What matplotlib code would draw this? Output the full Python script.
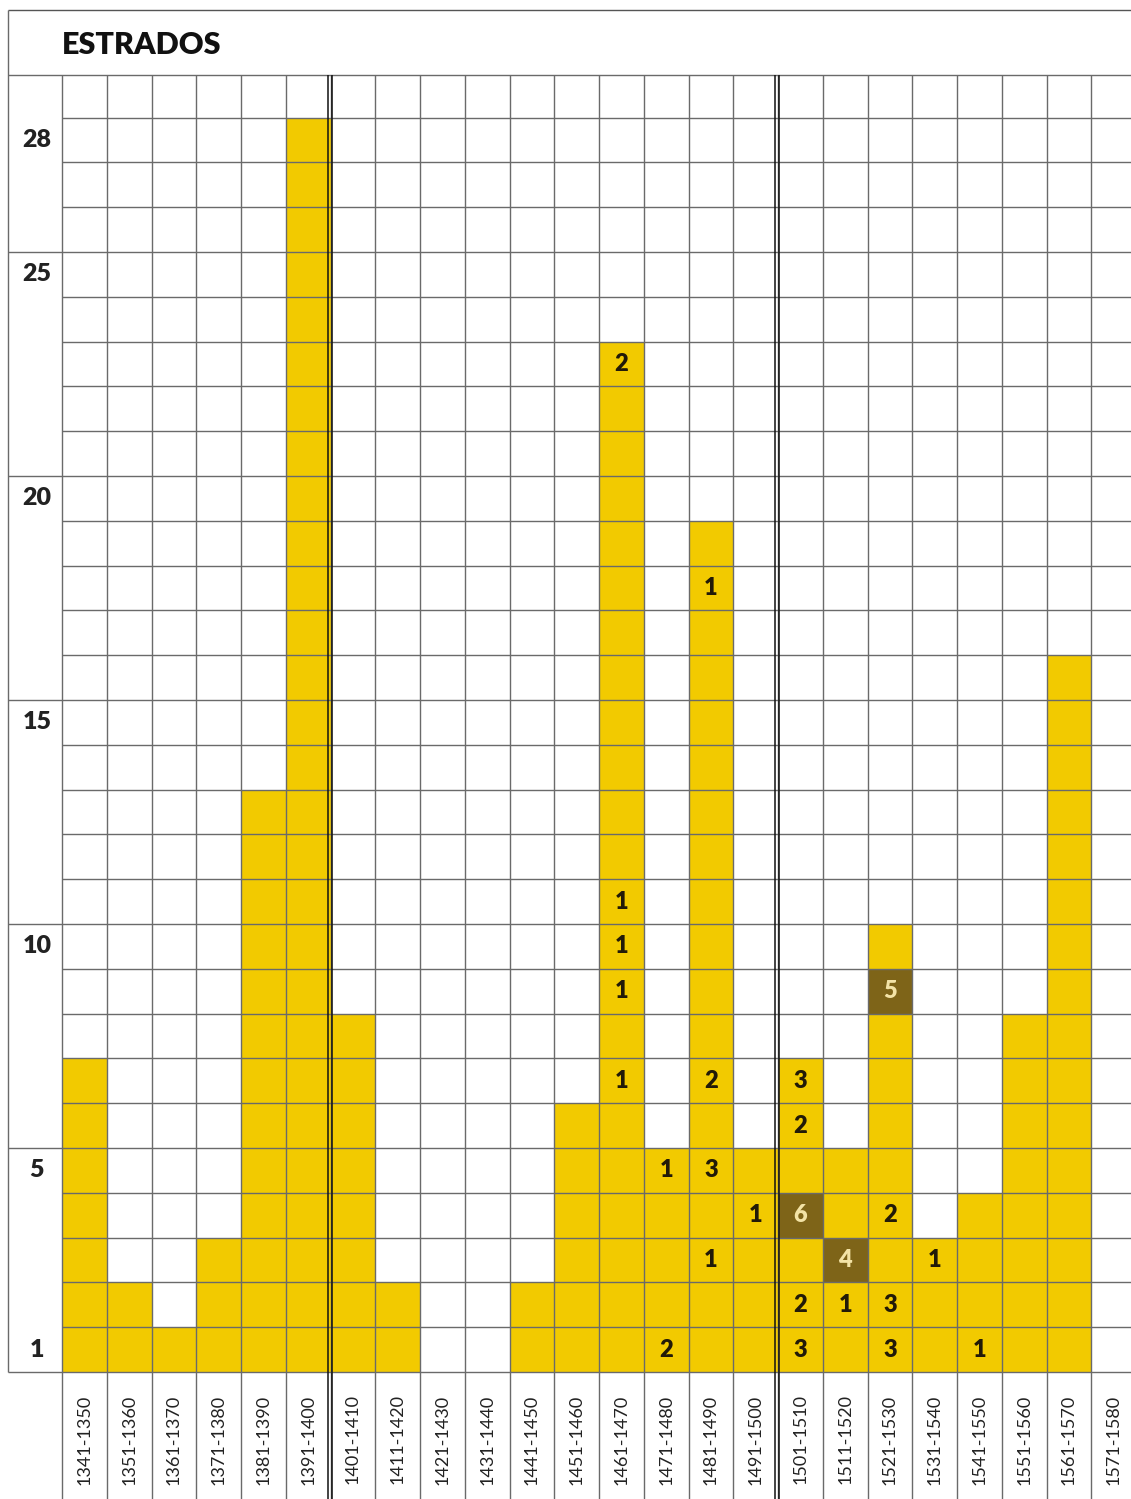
import numpy as np
import matplotlib
matplotlib.use("Agg")
import matplotlib.pyplot as plt

plt.rcParams['font.family'] = ['Lato', 'DejaVu Sans']

# decades on the x axis
periods = ['1341-1350', '1351-1360', '1361-1370', '1371-1380', '1381-1390',
           '1391-1400', '1401-1410', '1411-1420', '1421-1430', '1431-1440',
           '1441-1450', '1451-1460', '1461-1470', '1471-1480', '1481-1490',
           '1491-1500', '1501-1510', '1511-1520', '1521-1530', '1531-1540',
           '1541-1550', '1551-1560', '1561-1570', '1571-1580']
counts = [7, 2, 1, 3, 13, 28, 8, 2, 0, 0, 2, 6, 23, 5, 19, 5, 7, 5, 10, 3, 4, 8, 16, 0]

# numbers written inside single cells (period, row, text)
note_period = ['1461-1470', '1461-1470', '1461-1470', '1461-1470', '1461-1470',
               '1471-1480', '1471-1480',
               '1481-1490', '1481-1490', '1481-1490', '1481-1490',
               '1491-1500',
               '1501-1510', '1501-1510', '1501-1510', '1501-1510', '1501-1510',
               '1511-1520', '1511-1520',
               '1521-1530', '1521-1530', '1521-1530', '1521-1530',
               '1531-1540', '1541-1550']
note_row = [23, 11, 10, 9, 7,
            5, 1,
            18, 7, 5, 3,
            4,
            7, 6, 4, 2, 1,
            3, 2,
            9, 4, 2, 1,
            3, 1]
note_text = ['2', '1', '1', '1', '1',
             '1', '2',
             '1', '2', '3', '1',
             '1',
             '3', '2', '6', '2', '3',
             '4', '1',
             '5', '2', '3', '3',
             '1', '1']
# highlighted (dark) cells
dark_period = ['1501-1510', '1511-1520', '1521-1530']
dark_row = [4, 3, 9]

row_labels = [1, 5, 10, 15, 20, 25, 28]
label_boxes = [5, 10, 15, 20, 25]
separators = [6, 16]   # double lines before 1401 and 1501

yellow = '#F2CA00'
dark = '#7E6418'
line_col = '#6a6a6a'

W, H = 1131, 1499
fig = plt.figure(figsize=(W / 100, H / 100), dpi=100)
ax = fig.add_axes([62 / W, (H - 1372) / H, (W - 62) / W, (1372 - 75) / H])
ax.set_axis_off()

xmax = (W - 62) / 44.75
ytop = 1297 / 44.8
ax.set_xlim(0, xmax)
ax.set_ylim(0, ytop)

x = np.arange(len(periods))
ax.bar(x, counts, width=1, align='edge', color=yellow, linewidth=0, zorder=1)

dx = [periods.index(p) for p in dark_period]
ax.bar(dx, [1] * len(dx), bottom=np.array(dark_row) - 1, width=1, align='edge',
       color=dark, linewidth=0, zorder=1)

# grid
x_left = -54 / 44.75
y_head = (1372 - 10) / 44.8
y_foot = -(H - 1372) / 44.8
ax.hlines(np.arange(1, 29), 0, xmax, color=line_col, lw=1.0, zorder=2)
ax.vlines(np.arange(0, 25), y_foot, ytop, color=line_col, lw=1.0, zorder=2, clip_on=False)
for s in separators:
    ax.vlines([s - 0.06, s + 0.03], y_foot, ytop, color='#111111', lw=1.1, zorder=3, clip_on=False)

# left label column and header frame
ax.hlines([0, ytop], x_left, xmax, color=line_col, lw=1.0, zorder=2, clip_on=False)
ax.hlines(label_boxes, x_left, 0, color=line_col, lw=1.0, zorder=2, clip_on=False)
ax.hlines([y_head], x_left, xmax, color='#555555', lw=1.0, zorder=2, clip_on=False)
ax.vlines([x_left], 0, y_head, color=line_col, lw=1.0, zorder=2, clip_on=False)

ax.text(0, (1372 - 45) / 44.8, 'ESTRADOS', fontsize=22, fontweight='heavy',
        color='#111111', ha='left', va='center', clip_on=False)

for r in row_labels:
    ax.text(-0.56, r - 0.5, str(r), fontsize=18, fontweight='heavy', color='#222222',
            ha='center', va='center', clip_on=False)

for i, p in enumerate(periods):
    ax.text(i + 0.5, -0.5, p, rotation=90, fontsize=13, color='#222222',
            ha='center', va='top', clip_on=False)

for p, r, t in zip(note_period, note_row, note_text):
    is_dark = any(p == dp and r == dr for dp, dr in zip(dark_period, dark_row))
    ax.text(periods.index(p) + 0.5, r - 0.5, t, fontsize=17, fontweight='heavy',
            color='#F3E3A6' if is_dark else '#221a08', ha='center', va='center', zorder=4)

fig.savefig('out.png', dpi=100)
